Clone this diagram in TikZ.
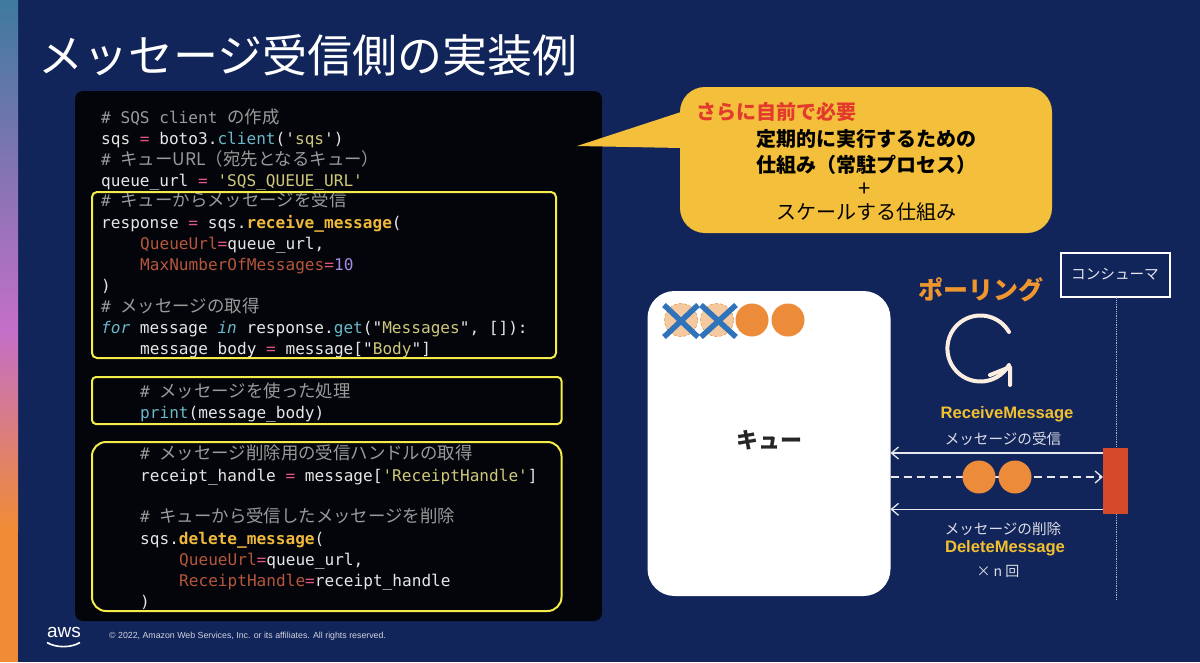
\documentclass[tikz,border=0pt]{standalone}
\usepackage{fontspec}
\usetikzlibrary{arrows.meta}
\setmainfont{Noto Sans CJK JP}
\newfontfamily\codefont{DejaVu Sans Mono}
\newfontfamily\latinfont{Liberation Sans}
\definecolor{slidebg}{HTML}{12255A}
\definecolor{blockbg}{HTML}{03050A}
\definecolor{codetext}{HTML}{E6E6E6}
\definecolor{commentgray}{HTML}{9A9A9A}
\definecolor{oppink}{HTML}{E0557F}
\definecolor{callcyan}{HTML}{6AB8C8}
\definecolor{strtan}{HTML}{CFC77A}
\definecolor{methgold}{HTML}{F0B93A}
\definecolor{argbrown}{HTML}{B5563A}
\definecolor{numviolet}{HTML}{A78BE0}
\definecolor{boxyellow}{HTML}{F3EC4A}
\definecolor{calloutgold}{HTML}{F4C03C}
\definecolor{alertred}{HTML}{E23B2E}
\definecolor{msgorange}{HTML}{EC8C3A}
\definecolor{msgpeach}{HTML}{F5C9A0}
\definecolor{crossblue}{HTML}{2F73BA}
\definecolor{actred}{HTML}{D44A2B}
\definecolor{pollorange}{HTML}{F0962E}
\definecolor{labelgold}{HTML}{F0C030}
\definecolor{ringcream}{HTML}{FBEEE0}
\definecolor{striptop}{HTML}{3F7A9E}
\definecolor{stripmid}{HTML}{C46FC8}
\definecolor{stripend}{HTML}{F08C35}
\newcommand{\cmt}[1]{\textcolor{commentgray}{#1}}
\newcommand{\jpc}[1]{{\color{commentgray}\normalfont\fontsize{17.4}{20}\selectfont #1}}
\newcommand{\op}[1]{\textcolor{oppink}{#1}}
\newcommand{\callc}[1]{\textcolor{callcyan}{#1}}
\newcommand{\strc}[1]{\textcolor{strtan}{#1}}
\newcommand{\meth}[1]{\textcolor{methgold}{\bfseries #1}}
\newcommand{\argc}[1]{\textcolor{argbrown}{#1}}
\tikzset{
  codeline/.style={anchor=base west, inner sep=0pt, text=codetext, font=\codefont\fontsize{16.1}{20}\selectfont},
  selbox/.style={draw=boxyellow, line width=2pt, inner sep=0pt, outer sep=0pt},
  msgdot/.style={circle, fill=msgorange, minimum size=33pt, inner sep=0pt},
  donedot/.style={circle, fill=msgpeach, draw=msgorange, densely dashed, line width=0.5pt, minimum size=33pt, inner sep=0pt},
  crossline/.style={draw=crossblue, line width=5.5pt},
  msgarrow/.style={draw=white!90!slidebg, line width=1.3pt, -{Straight Barb[length=7pt,width=12pt]}},
  calloutline/.style={inner sep=0pt, font=\bfseries\fontsize{20}{24}\selectfont, text=black},
  graylabel/.style={inner sep=0pt, text=white!85!slidebg, font=\fontsize{14.6}{18}\selectfont},
  goldlabel/.style={inner sep=0pt, text=labelgold, font=\latinfont\bfseries\fontsize{16.6}{18}\selectfont},
}
\begin{document}
\begin{tikzpicture}[x=1pt, y=-1pt]
    \useasboundingbox (0,0) rectangle (1200,662);
    \fill[slidebg] (0,0) rectangle (1200,662);
    \shade[top color=striptop, bottom color=stripmid] (0,0) rectangle (18,330);
    \shade[top color=stripmid, bottom color=stripend] (0,330) rectangle (18,530);
    \fill[stripend] (0,530) rectangle (18,662);
    \node[anchor=west, inner sep=0pt, text=white, font=\fontsize{45}{50}\selectfont] (title) at (38.5,55) {メッセージ受信側の実装例};

    % code block
    \node[fill=blockbg, rounded corners=8pt, minimum width=527pt, minimum height=530pt, inner sep=0pt, outer sep=0pt] (codeblock) at (338.5,356) {};
    \node[codeline] (l1) at (101,123) {\cmt{\# SQS client }\jpc{の作成}};
    \node[codeline] (l2) at (101,144) {sqs \op{=} boto3.\callc{client}('\strc{sqs}')};
    \node[codeline] (l3) at (101,165) {\cmt{\# }\jpc{キューURL（宛先となるキュー）}};
    \node[codeline] (l4) at (101,186) {queue\_url \op{=} \strc{'SQS\_QUEUE\_URL'}};
    \node[codeline] (l5) at (101,206) {\cmt{\# }\jpc{キューからメッセージを受信}};
    \node[codeline] (l6) at (101,228) {response \op{=} sqs.\meth{receive\_message}(};
    \node[codeline] (l7) at (140,249) {\argc{QueueUrl}\op{=}queue\_url,};
    \node[codeline] (l8) at (140,270) {\argc{MaxNumberOfMessages}\op{=}\textcolor{numviolet}{10}};
    \node[codeline] (l9) at (101,291) {)};
    \node[codeline] (l10) at (101,312) {\cmt{\# }\jpc{メッセージの取得}};
    \node[codeline] (l11) at (101,333) {\callc{\itshape for} message \callc{\itshape in} response.\callc{get}("\strc{Messages}", []):};
    \node[codeline] (l12) at (140,354) {message\_body \op{=} message["\strc{Body}"]};
    \node[codeline] (l13) at (140,397) {\cmt{\# }\jpc{メッセージを使った処理}};
    \node[codeline] (l14) at (140,418) {\callc{print}(message\_body)};
    \node[codeline] (l15) at (140,459) {\cmt{\# }\jpc{メッセージ削除用の受信ハンドルの取得}};
    \node[codeline] (l16) at (140,481) {receipt\_handle \op{=} message[\strc{'ReceiptHandle'}]};
    \node[codeline] (l17) at (140,522) {\cmt{\# }\jpc{キューから受信したメッセージを削除}};
    \node[codeline] (l18) at (140,544) {sqs.\meth{delete\_message}(};
    \node[codeline] (l19) at (179,565) {\argc{QueueUrl}\op{=}queue\_url,};
    \node[codeline] (l20) at (179,586) {\argc{ReceiptHandle}\op{=}receipt\_handle};
    \node[codeline] (l21) at (140,607) {)};
    \node[selbox, rounded corners=5pt, minimum width=464pt, minimum height=166pt] (recvbox) at (324,275) {};
    \node[selbox, rounded corners=4pt, minimum width=469.5pt, minimum height=47pt] (workbox) at (326.75,400.5) {};
    \node[selbox, rounded corners=14pt, minimum width=469.5pt, minimum height=169pt] (delbox) at (326.75,526.5) {};

    % callout
    \coordinate (callouttip) at (577,146);
    \node[fill=calloutgold, rounded corners=25pt, minimum width=372pt, minimum height=146pt, inner sep=0pt, outer sep=0pt] (callout) at (866,160) {};
    \fill[calloutgold] (callouttip) -- (681,112) -- (681,148) -- cycle;
    \node[calloutline, anchor=west, text=alertred] (calloutalert) at (696,112) {さらに自前で必要};
    \node[calloutline, anchor=west] (calloutone) at (756,139) {定期的に実行するための};
    \node[calloutline, anchor=west] (callouttwo) at (756,165) {仕組み（常駐プロセス）};
    \node[calloutline, font=\fontsize{22}{24}\selectfont] (calloutplus) at (865,190) {+};
    \node[calloutline, font=\fontsize{20}{24}\selectfont] (calloutthree) at (866,212) {スケールする仕組み};

    % queue
    \node[fill=white, rounded corners=27pt, minimum width=243pt, minimum height=305pt, inner sep=0pt, outer sep=0pt] (queue) at (769,443.5) {};
    \node[inner sep=0pt, text=black!85, font=\bfseries\fontsize{22}{26}\selectfont] (queuelabel) at (769,440) {キュー};
    \node[donedot] (donea) at (681,320) {};
    \node[donedot] (doneb) at (717,320) {};
    \node[msgdot] (msga) at (752,320) {};
    \node[msgdot] (msgb) at (788,320) {};
    \draw[crossline] ([shift={(-17,-15)}]donea.center) -- ([shift={(17,17)}]donea.center);
    \draw[crossline] ([shift={(17,-15)}]donea.center) -- ([shift={(-17,17)}]donea.center);
    \draw[crossline] ([shift={(-16,-15)}]doneb.center) -- ([shift={(19,17)}]doneb.center);
    \draw[crossline] ([shift={(19,-15)}]doneb.center) -- ([shift={(-16,17)}]doneb.center);

    % polling
    \node[inner sep=0pt, text=pollorange, font=\bfseries\fontsize{25}{30}\selectfont] (polling) at (981,290) {ポーリング};
    \draw[ringcream, line width=4pt, line cap=round] (1009,332) arc[start angle=30, end angle=330, radius=33pt];
    \draw[ringcream, line width=4pt, line cap=round, line join=round] (990,375) -- (1010,367) -- (1010,385);

    % consumer lifeline
    \node[draw=white, line width=2pt, fill=slidebg, minimum width=109pt, minimum height=44pt, inner sep=0pt, outer sep=0pt, text=white!90!slidebg, font=\fontsize{14.6}{18}\selectfont] (consumer) at (1115,274.5) {コンシューマ};
    \coordinate (lifeend) at (1116,600);
    \draw[white!65!slidebg, densely dotted, line width=0.8pt] (consumer.south -| lifeend) -- (lifeend);
    \node[fill=actred, minimum width=25pt, minimum height=66pt, inner sep=0pt, outer sep=0pt] (act) at (1115.5,481) {};

    % messages
    \draw[msgarrow] ([yshift=28pt]act.west) coordinate (recvstart) -- (recvstart -| queue.east);
    \draw[msgarrow, dash pattern=on 8pt off 5pt] (queue.east |- 0,477) coordinate (fetchstart) -- (fetchstart -| act.west);
    \draw[msgarrow] ([yshift=-28.3pt]act.west) coordinate (delstart) -- (delstart -| queue.east);
    \node[msgdot] (flowa) at (979,477) {};
    \node[msgdot] (flowb) at (1015,477) {};
    \node[goldlabel] (recvname) at (1007,414.5) {ReceiveMessage};
    \node[graylabel] (recvtext) at (1003,439) {メッセージの受信};
    \node[graylabel] (deltext) at (1003,529) {メッセージの削除};
    \node[goldlabel] (delname) at (1005,548) {DeleteMessage};
    \node[graylabel, font=\fontsize{14}{18}\selectfont] (times) at (998,571) {× n 回};

    % footer
    \node[inner sep=0pt, text=white, font=\latinfont\fontsize{19}{20}\selectfont] (awslogo) at (64,632) {aws};
    \draw[white, line width=1.6pt] (47,642.5) .. controls (56,648) and (71,648) .. (80,642.5);
    \node[anchor=west, inner sep=0pt, text=white!80!slidebg, font=\latinfont\fontsize{8.8}{11}\selectfont] (copyright) at (109,636) {© 2022, Amazon Web Services, Inc. or its affiliates. All rights reserved.};
\end{tikzpicture}
\end{document}
